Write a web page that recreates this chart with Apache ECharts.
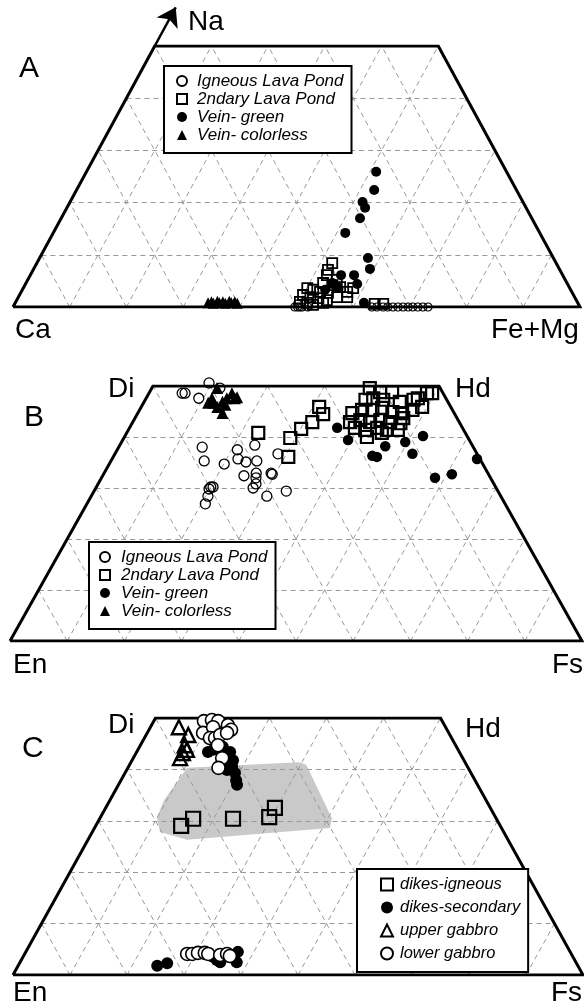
<!DOCTYPE html>
<html><head><meta charset="utf-8">
<script src="https://cdn.jsdelivr.net/npm/echarts@6/dist/echarts.min.js"></script>
<style>html,body{margin:0;padding:0;background:#fff}#c{width:584px;height:1008px}</style>
</head><body><div id="c"></div>
<script>
// ---------- Panel A : [Fe+Mg %, Na %] ----------
const aIgneous = [[49.7,0],[50.2,0],[50.6,0],[51.0,0],[52.0,0],[49.9,0.6],[63.3,0],[64.2,0],[65.3,0],[66.1,0],[67.0,0],[67.9,0],[68.8,0],[69.7,0],[70.5,0],[71.4,0],[72.3,0],[73.2,0]];
const aSecondary = [[52.1,8.4],[52.0,7.1],[52.3,6.1],[54.5,5.2],[52.4,4.6],[54.2,4.2],[55.8,3.8],[50.1,3.6],[51.3,3.3],[52.7,2.9],[54.2,2.7],[57.5,2.9],[58.2,3.6],[50.0,2.3],[51.5,1.9],[53.0,1.7],[54.7,1.3],[56.2,1.9],[58.0,1.9],[50.1,1.0],[51.5,0.8],[54.3,0.8],[52.7,0.4],[63.5,0.6],[65.0,0.6]];
const aVeinGreen = [[51.1,25.9],[52.5,22.4],[51.6,20.1],[52.6,19.0],[52.7,17.0],[51.5,14.2],[57.9,9.4],[59.3,7.3],[57.1,6.1],[58.5,4.4],[54.8,6.1],[54.0,4.6],[55.4,3.8],[61.5,0.8],[53.4,3.3]];
const aVeinColorless = [[34.0,0.8],[34.5,1.0],[35.0,0.7],[35.5,1.1],[36.0,0.8],[36.5,1.0],[37.1,0.7],[37.6,1.1],[38.1,0.8],[38.6,1.0],[39.2,0.7]];

// ---------- Panel B : [Fs %, Wo %] ----------
const bIgneous = [[9.5,50.6],[5.8,48.6],[6.3,48.6],[9.2,47.6],[11.9,49.6],[14.6,38.0],[16.3,35.3],[20.1,34.7],[21.0,37.5],[22.0,35.7],[23.7,35.1],[23.6,38.4],[25.5,35.3],[28.5,36.7],[29.2,32.9],[29.5,32.7],[24.7,32.4],[26.6,32.9],[27.0,32.0],[27.6,30.8],[27.5,30.0],[20.0,30.2],[20.4,30.2],[19.9,29.8],[20.4,28.4],[20.7,26.9],[30.7,28.4],[33.6,29.4]];
const bSecondary = [[23.0,40.8],[29.1,39.8],[30.6,36.1],[30.1,41.6],[31.4,42.9],[31.1,45.9],[32.5,44.5],[38.1,49.6],[40.3,48.8],[42.4,48.8],[38.5,47.3],[39.7,47.6],[41.6,47.3],[44.7,46.9],[37.5,44.7],[38.9,45.3],[40.7,45.3],[42.2,45.7],[44.4,44.9],[46.2,44.7],[38.0,42.9],[39.6,43.3],[41.5,42.9],[43.1,43.3],[45.0,42.9],[46.9,42.7],[39.4,41.8],[41.4,41.4],[43.3,41.8],[45.2,41.4],[47.1,41.4],[42.4,40.0],[44.6,40.8],[46.9,43.7],[46.9,47.3],[47.5,47.6],[48.6,48.6],[49.5,48.6],[49.1,45.9],[47.7,45.3]];
const bVeinGreen = [[36.3,41.8],[39.4,39.4],[45.2,36.3],[46.1,36.1],[46.5,38.2],[49.6,39.0],[52.0,36.7],[52.1,40.2],[63.8,35.7],[60.9,32.7],[58.3,32.0]];
const bVeinColorless = [[11.4,49.6],[11.5,47.6],[11.3,46.7],[13.7,46.9],[14.1,47.6],[15.5,47.6],[14.5,48.6],[15.8,47.8],[13.3,45.9],[14.8,44.7],[12.2,46.7],[14.5,46.3]];

// ---------- Panel C : [Fs %, Wo %] ----------
const cDikesIgneous = [[15.0,29.0],[16.4,30.4],[23.4,30.4],[29.6,30.7],[29.7,32.5]];
const cDikesSecondary = [[13.2,43.8],[14.6,44.4],[16.4,43.4],[17.7,41.8],[18.2,40.5],[19.3,39.3],[20.2,37.9],[20.8,37.0],[17.6,39.9],[17.1,41.2],[12.5,43.4],[24.4,1.8],[25.9,2.3],[33.4,3.5],[35.1,2.5],[37.0,3.3],[37.2,4.5],[38.0,2.5],[34.3,2.9]];
const cUpperGabbro = [[5.0,48.2],[7.4,46.7],[7.8,44.7],[8.6,43.8],[8.2,42.2],[8.2,43.2]];
const cLowerGabbro = [[8.8,49.4],[10.1,49.6],[11.3,49.4],[13.4,48.6],[14.4,47.7],[9.8,47.1],[11.0,48.2],[11.5,46.1],[12.4,46.1],[13.0,46.7],[14.0,47.1],[13.6,44.7],[15.6,42.2],[15.9,40.3],[28.5,4.1],[29.4,4.1],[30.3,4.3],[31.5,4.3],[32.2,4.1],[34.4,3.9],[35.5,4.1],[36.2,3.7]];
const cField = [[10.4,40.3],[29.5,41.4],[31.0,40.9],[40.7,30.5],[41.3,28.6],[17.4,26.3],[11.9,27.8],[9.9,30.7],[9.5,34.0]];

const gridSteps = [10,20,30,40,50,60,70,80,90];
const levelSteps = [10,20,30,40];
const legendAB = ['Igneous Lava Pond','2ndary Lava Pond','Vein- green','Vein- colorless'];
const legendC = ['dikes-igneous','dikes-secondary','upper gabbro','lower gabbro'];

// ternary -> plot (x along base in %, y = apex %)
function toXY(p){ return [p[0] + p[1]/2, p[1]]; }

function gridLines(){
  const out = [];
  levelSteps.forEach(a => out.push({coords:[[a/2,a],[100-a/2,a]]}));
  gridSteps.forEach(b => {
    const t1 = Math.min(50, 100-b);
    out.push({coords:[[b,0],[b+t1/2,t1]]});
    const t2 = Math.min(50, b);
    out.push({coords:[[b,0],[b-t2/2,t2]]});
  });
  return out;
}
const outline = [[0,0],[100,0],[75,50],[25,50],[0,0]];

const grids = [
  {left:13, top:46, width:567, height:261},
  {left:10, top:386, width:572, height:255},
  {left:13, top:718, width:570, height:257}
];

const series = [];
function frame(i){
  series.push({type:'lines', coordinateSystem:'cartesian2d', xAxisIndex:i, yAxisIndex:i, silent:true, z:2,
    lineStyle:{color:'#999', width:1, type:[5,4], opacity:1}, data: gridLines()});
  series.push({type:'line', xAxisIndex:i, yAxisIndex:i, data: outline, symbol:'none', silent:true, z:3,
    lineStyle:{color:'#000', width:3, join:'miter'}});
}
const OPEN = 'rgba(255,255,255,0)';
function sc(i, name, arr, symbol, size, fill, bw, z){
  series.push({type:'scatter', name, xAxisIndex:i, yAxisIndex:i, data: arr.map(toXY), symbol, symbolSize:size, clip:false, z:z||5,
    itemStyle:{color:fill, borderColor:'#000', borderWidth:bw, opacity:1}, emphasis:{disabled:true}});
}

// gray field in C
series.push({type:'custom', xAxisIndex:2, yAxisIndex:2, data:[[0,0]], silent:true, z:1, clip:false,
  renderItem:(params, api)=>({type:'polygon', shape:{points: cField.map(p=>api.coord(toXY(p)))}, style:{fill:'#c9c9c9'}})});
frame(0); frame(1); frame(2);

// arrow (Na direction)
series.push({type:'lines', coordinateSystem:'cartesian2d', xAxisIndex:0, yAxisIndex:0, silent:true, z:3, clip:false,
  symbol:['none','arrow'], symbolSize:[11,18], lineStyle:{color:'#000', width:2.5, opacity:1},
  data:[{coords:[[25,50],[28.7,57.4]]}]});

sc(0, legendAB[1], aSecondary, 'rect', 10, OPEN, 1.8, 5);
sc(0, legendAB[0], aIgneous, 'circle', 8, OPEN, 1.2, 6);
sc(0, legendAB[2], aVeinGreen, 'circle', 10, '#000', 0, 7);
sc(0, legendAB[3], aVeinColorless, 'triangle', 11, '#000', 0, 7);

sc(1, legendAB[0], bIgneous, 'circle', 10, OPEN, 1.3, 5);
sc(1, legendAB[1], bSecondary, 'rect', 12, OPEN, 2.2, 6);
sc(1, legendAB[2], bVeinGreen, 'circle', 10.5, '#000', 0, 7);
sc(1, legendAB[3], bVeinColorless, 'triangle', 12, '#000', 0, 7);

sc(2, legendC[0], cDikesIgneous, 'rect', 14, OPEN, 2.2, 5);
sc(2, legendC[2], cUpperGabbro, 'triangle', 14, OPEN, 2.4, 5);
sc(2, legendC[1], cDikesSecondary, 'circle', 12, '#000', 0, 6);
sc(2, legendC[3], cLowerGabbro, 'circle', 13, '#fff', 1.6, 7);

const FONT = "'Liberation Sans', Arial, Helvetica, sans-serif";
function legendAt(left, top, names, pad, isz, fs, lh, tpad){
  return {show:true, orient:'vertical', left, top, padding:pad, itemGap:0, itemWidth:isz, itemHeight:isz,
    selectedMode:false, borderColor:'#000', borderWidth:2, backgroundColor:'#fff', borderRadius:0,
    data: names, z:10,
    textStyle:{color:'#000', fontStyle:'italic', fontSize:fs, lineHeight:lh, fontFamily:FONT, padding:[0,0,0,tpad]}};
}

function label(text, x, y, size){
  return {type:'text', x, y, z:20, style:{text, fill:'#000', font: size+'px '+FONT, verticalAlign:'middle', align:'left'}};
}

const option = {
  animation:false,
  backgroundColor:'#fff',
  grid: grids,
  xAxis: grids.map((g,i)=>({gridIndex:i, type:'value', min:0, max:100, show:false})),
  yAxis: grids.map((g,i)=>({gridIndex:i, type:'value', min:0, max:50, show:false})),
  legend:[
    legendAt(164, 66, legendAB, [6,8,9,12], 10, 17, 18, 5),
    legendAt(89, 542, legendAB, [6,8,9,10], 10, 17, 18, 6),
    legendAt(357, 869, legendC, [4,8,7,23], 12, 16.5, 23, 2)
  ],
  graphic:[
    label('Na',188,22,28), label('A',19,69,30), label('Ca',15,330,28), label('Fe+Mg',491,330,28),
    label('Di',108,389,28), label('Hd',455,389,28), label('B',24,418,30), label('En',13,665,28), label('Fs',552,665,28),
    label('Di',108,725,28), label('Hd',465,729,28), label('C',22,749,30), label('En',13,993,28), label('Fs',551,993,28)
  ],
  series
};
const chart = echarts.init(document.getElementById('c'), null, {renderer:'canvas'});
chart.setOption(option);
</script></body></html>
